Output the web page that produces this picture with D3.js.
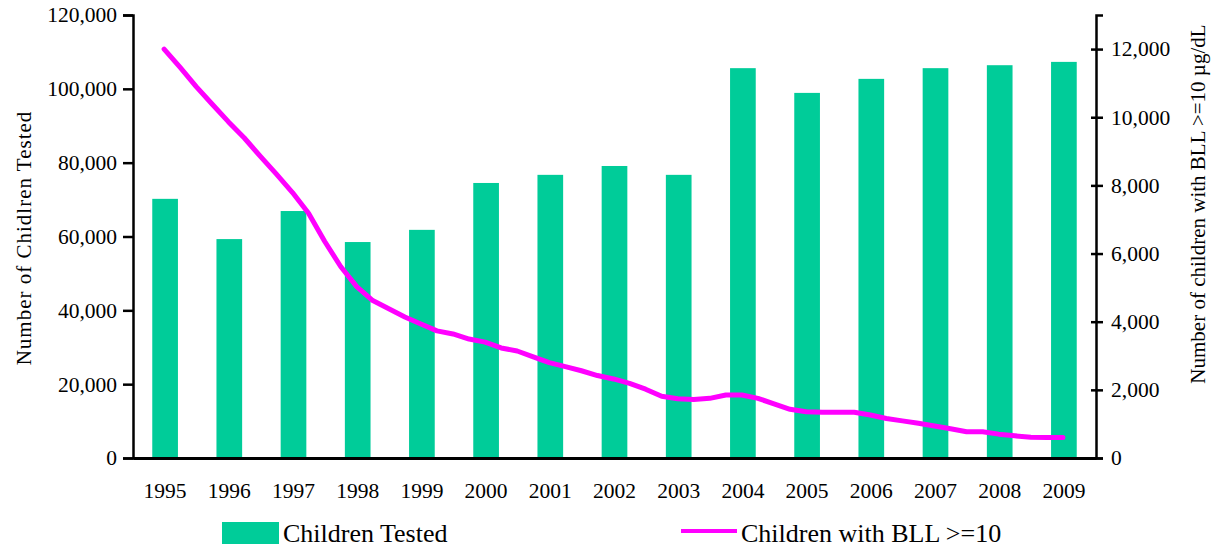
<!DOCTYPE html>
<html>
<head>
<meta charset="utf-8">
<script src="https://cdn.jsdelivr.net/npm/d3@7"></script>
<style>
  body { margin: 0; background: #fff; }
  text { font-family: "Liberation Serif", "Times New Roman", serif; fill: #000; }
  .axis path, .axis line { stroke: #000; }
  .axis text { font-size: 21.5px; font-family: "Liberation Serif", "Times New Roman", serif; }
</style>
</head>
<body>
<div id="chart"></div>
<script>
const years = ["1995","1996","1997","1998","1999","2000","2001","2002","2003","2004","2005","2006","2007","2008","2009"];
const tested = [70200, 59300, 66900, 58500, 61800, 74500, 76700, 79100, 76700, 105600, 98900, 102700, 105600, 106400, 107300];

// quarterly counts of children with BLL >= 10, 1995 Q1 .. 2009 Q1
const bllTimes = d3.range(0, 57).map(function(k) { return 1995 + k / 4; });
const bllValues = [12000, 11460, 10900, 10380, 9870, 9390, 8850, 8330, 7790, 7180,
  6360, 5620, 5030, 4620, 4380, 4140, 3930, 3730, 3640, 3490,
  3400, 3230, 3140, 2970, 2800, 2680, 2560, 2420, 2320, 2190,
  2020, 1810, 1740, 1720, 1750, 1850, 1850, 1750, 1590, 1430,
  1360, 1340, 1340, 1340, 1260, 1160, 1090, 1020, 940, 860,
  770, 770, 700, 650, 610, 600, 600];

const leftTicks = [0, 20000, 40000, 60000, 80000, 100000, 120000];
const rightTicks = [0, 2000, 4000, 6000, 8000, 10000, 12000];

const width = 1212;
const height = 548;
const margin = { top: 15, left: 133, right: 116, bottom: 90 };

const svg = d3.select("#chart")
    .append("svg")
    .attr("width", width)
    .attr("height", height);

const xScale = d3.scaleBand()
    .domain(years)
    .range([margin.left, width - margin.right])
    .paddingInner(0.6)
    .paddingOuter(0.3);

const yLeft = d3.scaleLinear()
    .domain([0, 120000])
    .range([height - margin.bottom, margin.top]);

const yRight = d3.scaleLinear()
    .domain([0, 13000])
    .range([height - margin.bottom, margin.top]);

const xTime = d3.scaleLinear()
    .domain([1995, 2009])
    .range([xScale("1995") + xScale.bandwidth() / 2 - 1, xScale("2009") + xScale.bandwidth() / 2 - 1]);

// bars
svg.selectAll("rect.bar")
    .data(tested)
    .enter()
    .append("rect")
        .attr("class", "bar")
        .attr("x", function(d, i) { return xScale(years[i]); })
        .attr("y", function(d) { return yLeft(d); })
        .attr("width", xScale.bandwidth())
        .attr("height", function(d) { return yLeft(0) - yLeft(d); })
        .attr("fill", "#00CC99");

// line
const line = d3.line()
    .x(function(d, i) { return xTime(bllTimes[i]); })
    .y(function(d) { return yRight(d); });

svg.append("path")
    .datum(bllValues)
    .attr("d", line)
    .attr("fill", "none")
    .attr("stroke", "#FF00FF")
    .attr("stroke-width", 5)
    .attr("stroke-linejoin", "round")
    .attr("stroke-linecap", "round");

// axes
const fmt = d3.format(",");

const leftAxis = svg.append("g")
    .attr("class", "axis")
    .attr("transform", `translate(${margin.left},0)`)
    .call(d3.axisLeft(yLeft).tickValues(leftTicks).tickFormat(fmt).tickSizeOuter(0).tickSize(10).tickPadding(6));
leftAxis.selectAll("path, line").attr("stroke-width", 2.5);

const rightAxis = svg.append("g")
    .attr("class", "axis")
    .attr("transform", `translate(${width - margin.right},0)`)
    .call(d3.axisRight(yRight).tickValues(rightTicks).tickFormat(fmt).tickSizeOuter(0).tickSize(7).tickPadding(8));
rightAxis.selectAll("path, line").attr("stroke-width", 2.5);
rightAxis.selectAll(".tick line").attr("x1", -5);

const bottomAxis = svg.append("g")
    .attr("class", "axis")
    .attr("transform", `translate(0,${height - margin.bottom})`)
    .call(d3.axisBottom(xScale).tickSize(0).tickSizeOuter(0).tickPadding(25));
bottomAxis.select("path").attr("stroke-width", 3);

// axis titles
svg.append("text")
    .attr("transform", "rotate(-90)")
    .attr("x", -238)
    .attr("y", 31)
    .attr("text-anchor", "middle")
    .style("font-size", "21px")
    .style("letter-spacing", "1px")
    .text("Number of Chidlren Tested");

svg.append("text")
    .attr("transform", "rotate(-90)")
    .attr("x", -204)
    .attr("y", 1205)
    .attr("text-anchor", "middle")
    .style("font-size", "21px")
    .text("Number of children with BLL >=10 µg/dL");

// legend
const legend = svg.append("g");
legend.append("rect")
    .attr("x", 222).attr("y", 522)
    .attr("width", 57).attr("height", 22)
    .attr("fill", "#00CC99");
legend.append("text")
    .attr("x", 283).attr("y", 542)
    .style("font-size", "26px")
    .text("Children Tested");
legend.append("line")
    .attr("x1", 681).attr("x2", 737)
    .attr("y1", 531).attr("y2", 531)
    .attr("stroke", "#FF00FF")
    .attr("stroke-width", 4);
legend.append("text")
    .attr("x", 741).attr("y", 542)
    .style("font-size", "26px")
    .text("Children with BLL >=10");
</script>
</body>
</html>
